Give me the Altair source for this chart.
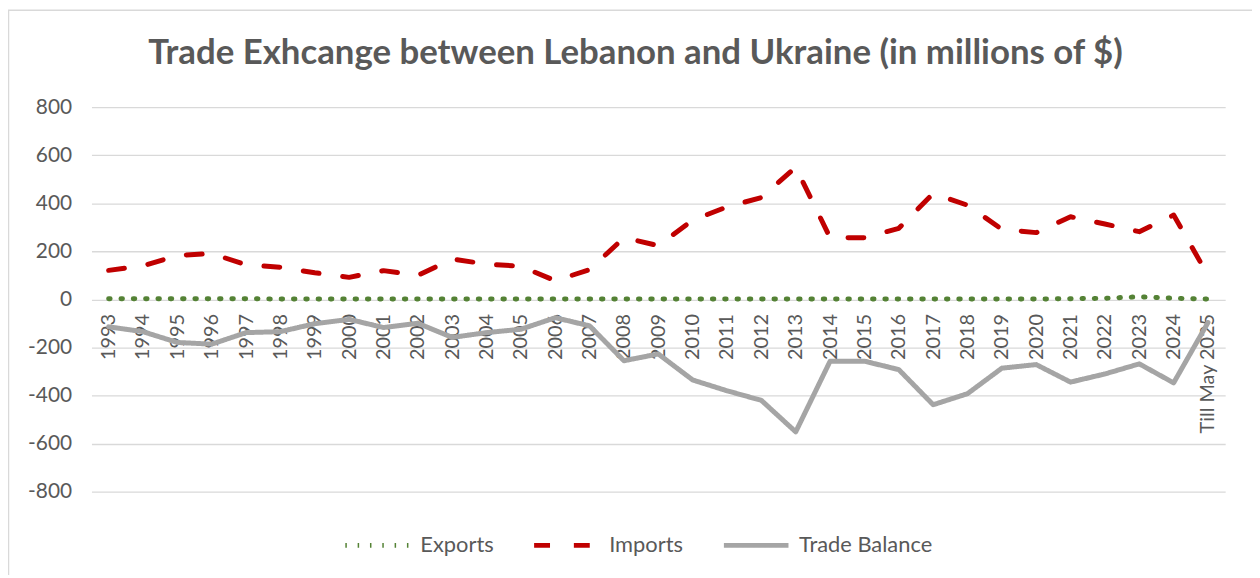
import altair as alt
import pandas as pd

years = ["1993", "1994", "1995", "1996", "1997", "1998", "1999", "2000", "2001",
         "2002", "2003", "2004", "2005", "2006", "2007", "2008", "2009", "2010",
         "2011", "2012", "2013", "2014", "2015", "2016", "2017", "2018", "2019",
         "2020", "2021", "2022", "2023", "2024", "Till May 2025"]

exports = [3, 3, 3, 3, 3, 2, 2, 2, 2, 2, 2, 2, 2, 2, 2, 2, 2, 2,
           2, 2, 2, 2, 2, 2, 2, 2, 2, 2, 3, 5, 11, 5, 2]

imports = [121, 140, 183, 191, 144, 134, 111, 92, 120, 100, 168, 147, 138, 78,
           124, 257, 224, 330, 385, 424, 550, 257, 257, 296, 441, 392, 292, 278,
           344, 314, 282, 351, 100]

balance = [-114, -134, -179, -186, -138, -134, -101, -83, -117, -99, -158, -138,
           -124, -76, -110, -255, -227, -335, -380, -420, -551, -257, -257, -292,
           -438, -392, -286, -271, -344, -310, -268, -347, -96]

series_names = ["Exports", "Imports", "Trade Balance"]
series_colors = ["#548235", "#C00000", "#A5A5A5"]
series_dash = [[1.5, 10.9], [16, 24], [1, 0]]

rows = []
for name, vals in zip(series_names, [exports, imports, balance]):
    for y, v in zip(years, vals):
        rows.append({"year": y, "value": v, "series": name})
df = pd.DataFrame(rows)

W, H = 1141, 387
PAD = {"left": 84, "top": 98, "right": 27, "bottom": 82}
TXT = "#595959"
FONT = "Lato"

lines = alt.Chart(df).mark_line(strokeWidth=5, strokeCap="round", strokeJoin="round").encode(
    x=alt.X("year:O", sort=years, title=None,
            axis=alt.Axis(orient="bottom", offset=-H / 2, labelAngle=-90, domain=False,
                          ticks=False, labelPadding=14, labelFontSize=20, labelColor=TXT,
                          labelFont=FONT, labelOverlap=False, grid=False)),
    y=alt.Y("value:Q", title=None,
            scale=alt.Scale(domain=[-800, 800], nice=False, zero=False),
            axis=alt.Axis(values=list(range(-800, 801, 200)), domain=False, ticks=False,
                          labelExpr="'' + datum.value",
                          labelPadding=20, labelFontSize=21, labelColor=TXT, labelFont=FONT,
                          gridColor="#D9D9D9", gridWidth=1.3)),
    color=alt.Color("series:N", title=None,
                    scale=alt.Scale(domain=series_names, range=series_colors)),
    strokeDash=alt.StrokeDash("series:N", title=None,
                              scale=alt.Scale(domain=series_names, range=series_dash)),
)

frame = alt.Chart(pd.DataFrame({"a": [0]})).mark_rect(
    fillOpacity=0, stroke="#D9D9D9", strokeWidth=1.5
).encode(x=alt.value(-83.5), x2=alt.value(1300), y=alt.value(-97.5), y2=alt.value(700))

chart = alt.layer(frame, lines).properties(
    width=W, height=H,
    autosize=alt.AutoSizeParams(type="none"),
    padding=PAD,
    title=alt.TitleParams(
        text="Trade Exhcange between Lebanon and Ukraine (in millions of $)",
        font=FONT, fontSize=35, fontWeight="bold", color=TXT,
        anchor="middle", dx=-23, offset=0, dy=62),
).configure_view(stroke=None).configure_legend(
    orient="none", legendX=253, legendY=406, direction="horizontal",
    symbolType="stroke", symbolSize=4225, symbolStrokeWidth=5,
    labelFont=FONT, labelFontSize=22, labelColor=TXT, labelOffset=8,
    columnPadding=30, padding=0,
)

chart.save("out.html", embed_options={"renderer": "svg", "actions": False})
